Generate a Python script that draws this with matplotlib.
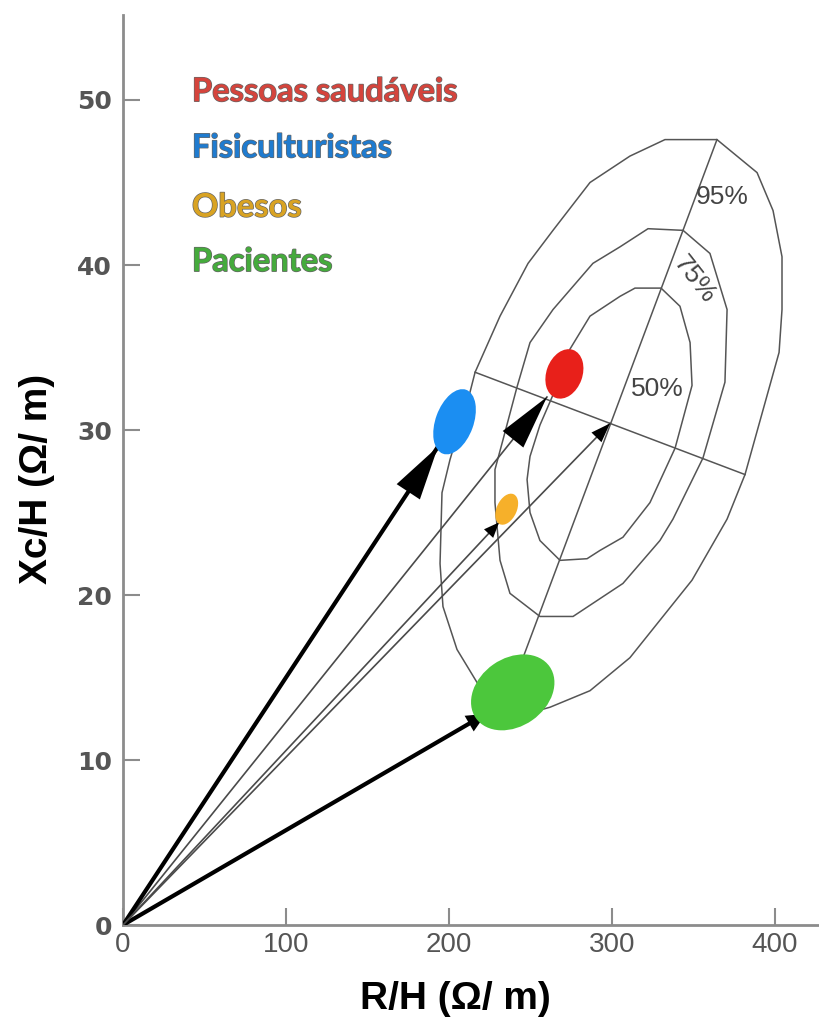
import matplotlib
matplotlib.use("Agg")
import matplotlib.pyplot as plt
import matplotlib.patheffects as pe
from matplotlib.patches import Ellipse, Polygon
from matplotlib.transforms import ScaledTranslation

# tolerance ellipses (R/H, Xc/H)
ell95_x = [332.5, 364.4, 389.0, 398.8, 404.3, 404.3, 402.5, 381.6, 370.6, 349.1, 311.0, 286.5,
           262.0, 240.5, 217.8, 204.9, 196.3, 194.5, 195.7, 200.6, 212.9, 216.0, 231.3, 248.5,
           263.8, 286.5, 311.0]
ell95_y = [47.6, 47.6, 45.6, 43.3, 40.5, 37.3, 34.7, 27.3, 24.6, 20.9, 16.2, 14.2,
           13.2, 12.6, 14.6, 16.7, 19.3, 21.9, 26.2, 28.2, 32.3, 33.5, 36.9, 40.1,
           42.1, 45.0, 46.6]
ell75_x = [322.1, 343.6, 360.1, 370.6, 369.3, 355.8, 337.4, 329.4, 306.7, 276.1, 255.8, 237.4,
           231.3, 228.2, 228.2, 233.1, 241.7, 249.7, 263.8, 288.3, 304.9]
ell75_y = [42.2, 42.1, 40.7, 37.3, 32.9, 28.3, 24.6, 23.3, 20.7, 18.7, 18.7, 20.1,
           22.1, 25.6, 27.6, 29.4, 32.6, 35.3, 37.3, 40.1, 41.1]
ell50_x = [314.1, 330.1, 341.7, 347.9, 349.1, 338.7, 323.3, 306.7, 292.6, 284.7, 268.1, 255.8,
           249.7, 247.9, 249.7, 255.8, 265.0, 274.2, 286.5, 304.9]
ell50_y = [38.6, 38.6, 37.5, 35.3, 32.7, 28.9, 25.6, 23.5, 22.7, 22.2, 22.1, 23.3,
           25.0, 27.0, 28.4, 30.3, 32.4, 34.9, 36.9, 38.1]
major_axis = [(245.4, 16.2), (364.4, 47.6)]
minor_axis = [(216.0, 33.5), (381.6, 27.3)]

pct_labels = ["95%", "75%", "50%"]
pct_pos = [(367.5, 44.1), (350.3, 39.1), (327.6, 32.5)]
pct_rot = [0, -52, 0]

# groups: name, colour, blob centre, arrow tip
groups = ["Pessoas saudáveis", "Fisiculturistas", "Obesos", "Pacientes"]
text_colors = ["#d5443c", "#1f7bcf", "#d9a323", "#45ab3c"]
blob_colors = ["#e8201a", "#1b8ef2", "#f6b02a", "#4cc73c"]
blob_x = [270.8, 203.4, 235.4, 239.1]
blob_y = [33.4, 30.5, 25.2, 14.1]
tip_x = [260.1, 193.3, 230.7, 222.7]
tip_y = [32.0, 29.0, 24.4, 12.8]
center_tip = (298.8, 30.4)

fig = plt.figure(figsize=(8.19, 10.22), dpi=100)
ax = fig.add_axes([0.1502, 0.0949, 0.8498, 0.8904])
ax.set_xlim(0, 427)
ax.set_ylim(0, 55.15)

for sp in ["top", "right"]:
    ax.spines[sp].set_visible(False)
for sp in ["left", "bottom"]:
    ax.spines[sp].set_color("#8c8c8c")
    ax.spines[sp].set_linewidth(2)

ax.set_xticks([0, 100, 200, 300, 400])
ax.set_yticks([0, 10, 20, 30, 40, 50])
ax.tick_params(direction="in", length=12, width=1.5, color="#8c8c8c")
ax.tick_params(axis="x", labelsize=20, labelcolor="#555555", pad=5)
ax.tick_params(axis="y", labelsize=18, labelcolor="#555555", pad=8)
for lab in ax.get_yticklabels():
    lab.set_fontweight("bold")
for lab in ax.get_xticklabels():
    lab.set_family(["Liberation Sans", "DejaVu Sans"])

lab_font = ["Liberation Sans Narrow", "Liberation Sans", "DejaVu Sans"]
ax.set_xlabel("R/H (Ω/ m)", fontsize=28, fontweight="bold", family=lab_font)
ax.xaxis.set_label_coords(0.478, -0.062)
ax.set_ylabel("Xc/H (Ω/ m)", fontsize=28, fontweight="bold", family=lab_font)
ax.yaxis.set_label_coords(-0.098, 0.49)

# tolerance ellipses
line_c = "#555555"
for xs, ys in [(ell95_x, ell95_y), (ell75_x, ell75_y), (ell50_x, ell50_y)]:
    ax.add_patch(Polygon(list(zip(xs, ys)), closed=True, fill=False, ec=line_c, lw=1.1, zorder=2))
for seg in [major_axis, minor_axis]:
    ax.plot([seg[0][0], seg[1][0]], [seg[0][1], seg[1][1]], color=line_c, lw=1.1, zorder=2)

for t, (px, py), r in zip(pct_labels, pct_pos, pct_rot):
    ax.text(px, py, t, fontsize=19, color="#444444", ha="center", va="center", rotation=r,
            family=["Liberation Sans", "DejaVu Sans"], zorder=3)


def head(tip, hl, hw):
    # arrow head at the tip, pointing away from the origin
    d = (tip[0] ** 2 + (tip[1] * 10) ** 2) ** 0.5
    back = (tip[0] - tip[0] / d * 2, tip[1] - tip[1] / d * 2)
    ax.annotate("", xy=tip, xytext=back,
                arrowprops=dict(arrowstyle=f"-|>,head_length={hl},head_width={hw}",
                                color="black", lw=0.01, shrinkA=0, shrinkB=0), zorder=5)


# arrows from origin
thick = [False, True, False, True]
hls = [3.9, 3.9, 1.1, 1.4]
hws = [0.95, 1.0, 0.45, 0.65]
for i in range(4):
    if thick[i]:
        ax.plot([0, tip_x[i]], [0, tip_y[i]], color="black", lw=3, zorder=4, solid_capstyle="butt")
    else:
        ax.plot([0, tip_x[i]], [0, tip_y[i]], color="#4a4a4a", lw=1.2, zorder=4)
    head((tip_x[i], tip_y[i]), hls[i], hws[i])
ax.plot([0, center_tip[0]], [0, center_tip[1]], color="#4a4a4a", lw=1.2, zorder=4)
head(center_tip, 1.4, 0.5)

# group blobs (sizes in inches so they keep their shape)
blob_w = [0.36, 0.38, 0.20, 0.90]
blob_h = [0.51, 0.68, 0.33, 0.68]
blob_a = [-20, -20, -25, 35]
for i in range(4):
    tr = fig.dpi_scale_trans + ScaledTranslation(blob_x[i], blob_y[i], ax.transData)
    ax.add_patch(Ellipse((0, 0), blob_w[i], blob_h[i], angle=blob_a[i], transform=tr,
                         fc=blob_colors[i], ec="none", zorder=6))

# legend text
leg_y = [50.5, 47.1, 43.5, 40.2]
for name, c, y in zip(groups, text_colors, leg_y):
    ax.text(42.3, y, name, fontsize=23.5, fontweight="bold", color=c, va="center", ha="left",
            family=["Lato", "DejaVu Sans"],
            path_effects=[pe.withStroke(linewidth=1.0, foreground="#666666")], zorder=7)

fig.savefig("out.png", dpi=100)
